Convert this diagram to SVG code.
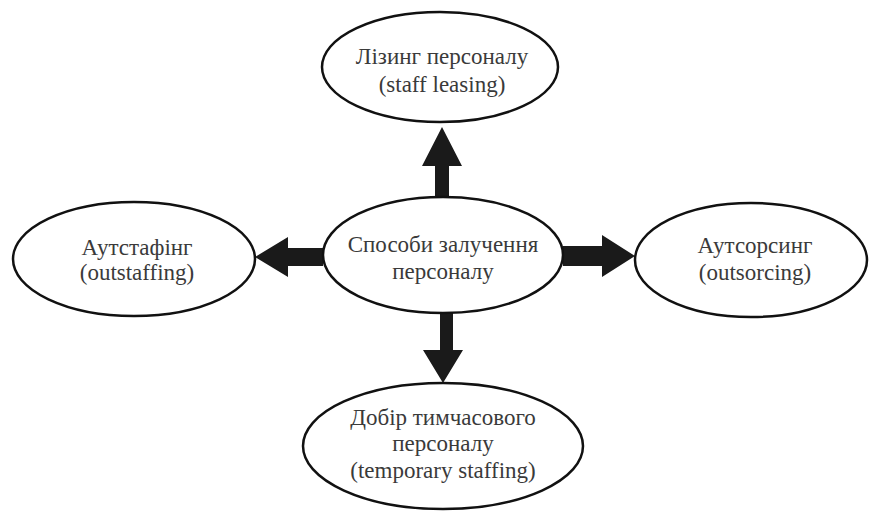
<svg xmlns="http://www.w3.org/2000/svg" width="869" height="511" viewBox="0 0 869 511">
<style>
.node ellipse{fill:#fff;stroke:#111;stroke-width:2.5}
.node text{font-family:"Liberation Serif","Times New Roman",serif;font-size:23px;fill:#3a3a3a;text-anchor:middle}
.arrow{fill:#1a1a1a;stroke:none}
</style>
<rect width="869" height="511" fill="#fff"/>
<g id="connectors">
<polygon class="arrow" points="435,198 435,166 422,166 442,127 462,166 449,166 449,198"/>
<polygon class="arrow" points="323,248 288,248 288,237 255,257 288,277 288,266 323,266"/>
<polygon class="arrow" points="563,246 602,246 602,235 635,256 602,277 602,266 563,266"/>
<polygon class="arrow" points="440,313 440,350 423,350 443,383 463,350 453,350 453,313"/>
</g>
<g id="node-top" class="node">
<ellipse cx="440" cy="67" rx="118" ry="55"/>
<text x="442" y="64">Лізинг персоналу</text>
<text x="442" y="92">(staff leasing)</text>
</g>
<g id="node-center" class="node">
<ellipse cx="443" cy="255" rx="120" ry="58"/>
<text x="443" y="252">Способи залучення</text>
<text x="443" y="279">персоналу</text>
</g>
<g id="node-left" class="node">
<ellipse cx="134" cy="259" rx="121" ry="57"/>
<text x="137" y="255">Аутстафінг</text>
<text x="137" y="280">(outstaffing)</text>
</g>
<g id="node-right" class="node">
<ellipse cx="751" cy="260" rx="116" ry="57"/>
<text x="755" y="253">Аутсорсинг</text>
<text x="755" y="280">(outsorcing)</text>
</g>
<g id="node-bottom" class="node">
<ellipse cx="443" cy="446" rx="140" ry="63"/>
<text x="443" y="425">Добір тимчасового</text>
<text x="443" y="451">персоналу</text>
<text x="443" y="478">(temporary staffing)</text>
</g>
</svg>
